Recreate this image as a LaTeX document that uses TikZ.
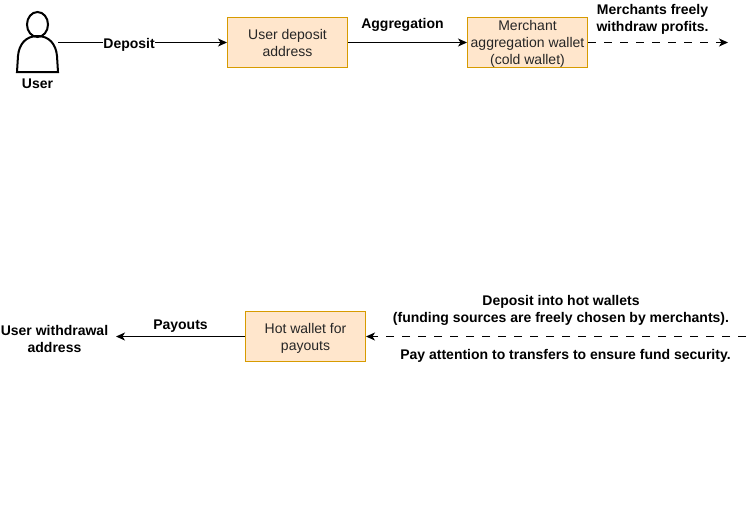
\documentclass[tikz,border=0pt]{standalone}
\usepackage{fontspec}
\setmainfont{Liberation Sans}
\usetikzlibrary{arrows.meta,positioning}
\definecolor{boxfill}{HTML}{FFE6CC}
\definecolor{boxline}{HTML}{D79B00}
\newcommand{\topstrut}[1][14pt]{\rule{0pt}{#1}}
\tikzset{
    wallet/.style={draw=boxline, fill=boxfill, line width=1pt, minimum width=120pt, minimum height=50pt, inner sep=0pt, align=center, font=\fontsize{14}{17}\selectfont, text=black!85},
    tag/.style={align=center, inner sep=0pt, font=\fontsize{14}{17}\selectfont\bfseries},
    flow/.style={line width=1pt, -{Stealth[length=9pt,width=8pt,inset=2.5pt]}},
    dashflow/.style={flow, dash pattern=on 8pt off 8pt},
}
\begin{document}
\begin{tikzpicture}[x=1pt,y=-1pt]
    \useasboundingbox (0,0) rectangle (754,523);

    % draw user
    \node[minimum width=41pt, minimum height=60pt, inner sep=0pt] (user) at (37.5,42) {};
    \draw[line width=2pt] (37.5,24.5) ellipse (10.5 and 12.5);
    \draw[line width=2pt] (17,72) -- (58,72) -- (57,56) .. controls (56,44) and (49,36) .. (37.5,36) .. controls (26,36) and (19,44) .. (18,56) -- cycle;
    \node[tag] (userlabel) at (37.5,84) {User};

    % draw top row
    \node[wallet] (deposit) at (287.5,42.5) {User deposit\\address};
    \node[wallet] (merchant) at (527.5,42.5) {\topstrut[12pt]Merchant\\aggregation wallet\\(cold wallet)};
    \coordinate (topend) at (728,42.5);
    \draw[flow] (user.east |- deposit.west) -- (deposit.west) node[pos=0.42, tag, fill=white, yshift=-2pt] (depositlabel) {Deposit};
    \draw[flow] (deposit.east) -- (merchant.west);
    \draw[dashflow] (merchant.east) -- (topend);
    \node[tag] (aggregation) at (402.5,24.5) {Aggregation};
    \node[tag] (profits) at (652.5,19) {Merchants freely\\withdraw profits.};

    % draw bottom row
    \node[wallet] (hot) at (305.5,336.5) {\topstrut Hot wallet for\\payouts};
    \node[tag] (payee) at (54.5,339) {User withdrawal\\address};
    \coordinate (bottomend) at (746,336.5);
    \draw[flow] (hot.west) -- (116,336.5);
    \draw[dashflow] (bottomend) -- (hot.east);
    \node[tag] (payouts) at (180.5,326) {Payouts};
    \node[tag] (funding) at (561,310) {Deposit into hot wallets\\(funding sources are freely chosen by merchants).};
    \node[tag] (security) at (565.5,356) {Pay attention to transfers to ensure fund security.};
\end{tikzpicture}
\end{document}
